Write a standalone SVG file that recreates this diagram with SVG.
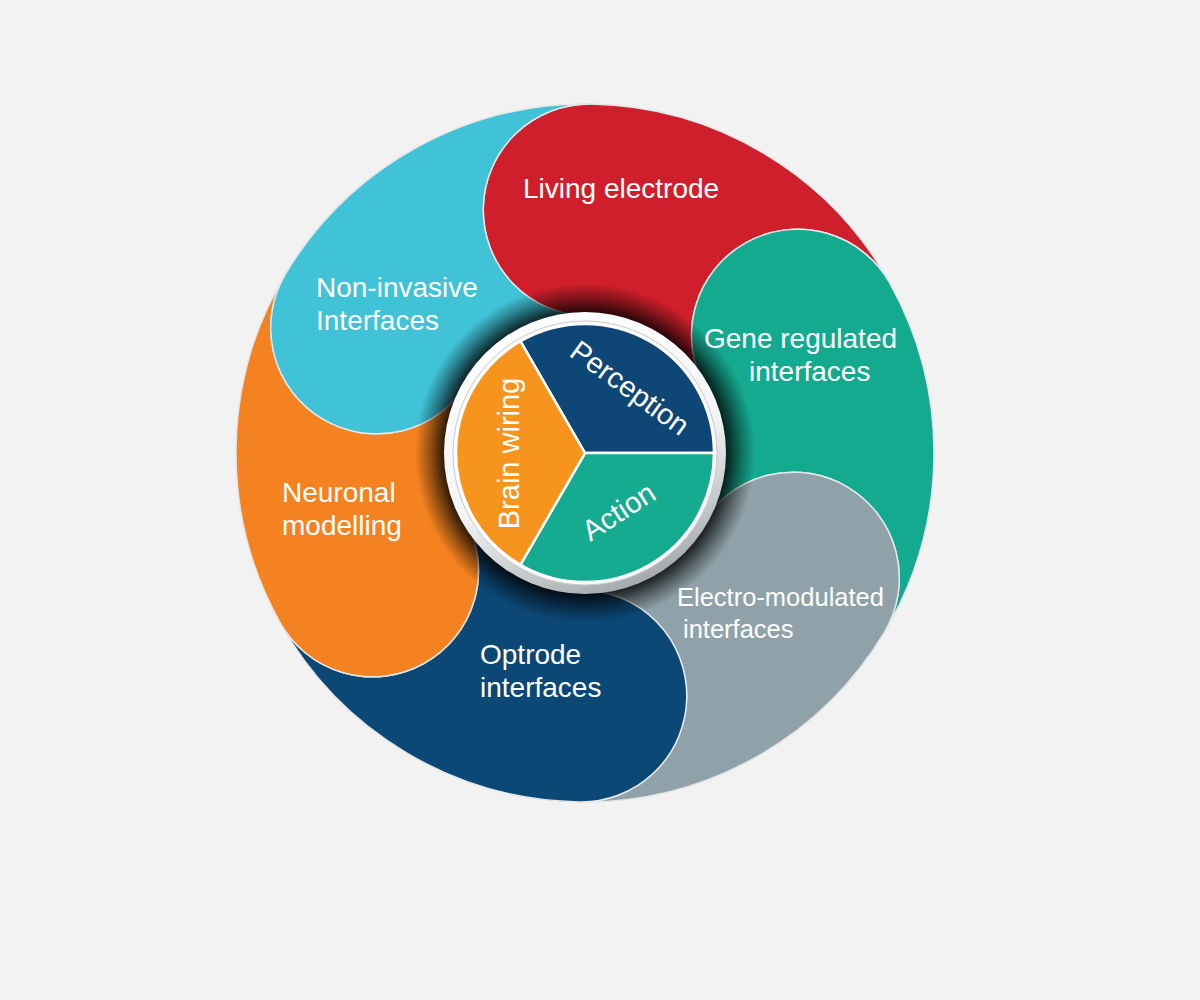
<svg xmlns="http://www.w3.org/2000/svg" width="1200" height="1000" viewBox="0 0 1200 1000">
  <style>
    .petal { stroke: #e4e6e8; stroke-width: 1.5; }
    .lbl { font-family: "Liberation Sans", Arial, sans-serif; font-size: 28px; fill: #ffffff; }
    .clbl { font-family: "Liberation Sans", Arial, sans-serif; font-size: 29px; fill: #ffffff; }
    .sector { stroke: #ffffff; stroke-width: 2.5; stroke-linejoin: round; }
  </style>
  <defs>
    <radialGradient id="shadow" gradientUnits="userSpaceOnUse" cx="585" cy="453" r="170">
      <stop offset="0.80" stop-color="#000" stop-opacity="0.85"/>
      <stop offset="0.84" stop-color="#000" stop-opacity="0.75"/>
      <stop offset="0.92" stop-color="#000" stop-opacity="0.35"/>
      <stop offset="1" stop-color="#000" stop-opacity="0"/>
    </radialGradient>
    <linearGradient id="bezel" x1="0.3" y1="0" x2="0.7" y2="1">
      <stop offset="0" stop-color="#ffffff"/>
      <stop offset="0.55" stop-color="#f3f4f5"/>
      <stop offset="0.82" stop-color="#c3c6c9"/>
      <stop offset="1" stop-color="#9ea2a6"/>
    </linearGradient>
  </defs>
  <rect x="0" y="0" width="1200" height="1000" fill="#f2f2f2"/>

  <g id="petals">
    <g id="petal-living-electrode">
      <path class="petal" fill="#d01f2c" d="M591.09,104.05 A349,349 0 0 1 890.24,283.80 A106,106 0 0 0 704.82,386.58 A137,137 0 0 0 587.39,316.02 A106,106 0 0 1 591.09,104.05 Z"/>
    </g>
    <g id="petal-gene-regulated">
      <path class="petal" fill="#14aa90" d="M890.24,283.80 A349,349 0 0 1 884.15,632.75 A106,106 0 0 0 702.43,523.56 A137,137 0 0 0 704.82,386.58 A106,106 0 0 1 890.24,283.80 Z"/>
    </g>
    <g id="petal-electro-modulated">
      <path class="petal" fill="#8fa2a9" d="M884.15,632.75 A349,349 0 0 1 578.91,801.95 A106,106 0 0 0 582.61,589.98 A137,137 0 0 0 702.43,523.56 A106,106 0 0 1 884.15,632.75 Z"/>
    </g>
    <g id="petal-optrode">
      <path class="petal" fill="#0c4876" d="M578.91,801.95 A349,349 0 0 1 279.76,622.20 A106,106 0 0 0 465.18,519.42 A137,137 0 0 0 582.61,589.98 A106,106 0 0 1 578.91,801.95 Z"/>
    </g>
    <g id="petal-neuronal-modelling">
      <path class="petal" fill="#f58220" d="M279.76,622.20 A349,349 0 0 1 285.85,273.25 A106,106 0 0 0 467.57,382.44 A137,137 0 0 0 465.18,519.42 A106,106 0 0 1 279.76,622.20 Z"/>
    </g>
    <g id="petal-non-invasive">
      <path class="petal" fill="#40c2d7" d="M285.85,273.25 A349,349 0 0 1 591.09,104.05 A106,106 0 0 0 587.39,316.02 A137,137 0 0 0 467.57,382.44 A106,106 0 0 1 285.85,273.25 Z"/>
    </g>
  </g>

  <g id="hub">
    <circle cx="585" cy="453" r="170" fill="url(#shadow)"/>
    <circle cx="585" cy="453" r="141" fill="url(#bezel)"/>
    <circle cx="585" cy="453" r="132" fill="#fafafa" stroke="#c9cbce" stroke-width="1"/>
    <g id="sector-perception">
      <path class="sector" fill="#0e4776" d="M585,453 L520.5,341.28 A129,129 0 0 1 714,453 Z"/>
      <text class="clbl" text-anchor="middle" transform="translate(624,396) rotate(36)">Perception</text>
    </g>
    <g id="sector-action">
      <path class="sector" fill="#15ab91" d="M585,453 L714,453 A129,129 0 0 1 520.5,564.72 Z"/>
      <text class="clbl" text-anchor="middle" transform="translate(624,520) rotate(-33)">Action</text>
    </g>
    <g id="sector-brain-wiring">
      <path class="sector" fill="#f6941e" d="M585,453 L520.5,564.72 A129,129 0 0 1 520.5,341.28 Z"/>
      <text class="clbl" text-anchor="middle" transform="translate(519,453.5) rotate(-90)">Brain wiring</text>
    </g>
  </g>

  <g id="labels">
    <text class="lbl" x="523" y="198">Living electrode</text>
    <text class="lbl" x="704" y="348">Gene regulated</text>
    <text class="lbl" x="749" y="381">interfaces</text>
    <text class="lbl" style="font-size:25.5px" x="677" y="606">Electro-modulated</text>
    <text class="lbl" style="font-size:25.5px" x="683" y="638">interfaces</text>
    <text class="lbl" x="480" y="664">Optrode</text>
    <text class="lbl" x="480" y="697">interfaces</text>
    <text class="lbl" x="282" y="502">Neuronal</text>
    <text class="lbl" x="282" y="535">modelling</text>
    <text class="lbl" x="316" y="297">Non-invasive</text>
    <text class="lbl" x="316" y="330">Interfaces</text>
  </g>
</svg>
